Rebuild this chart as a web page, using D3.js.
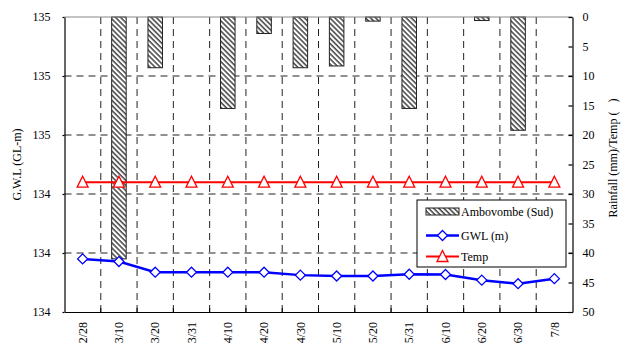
<!DOCTYPE html>
<html>
<head>
<meta charset="utf-8">
<script src="https://cdn.jsdelivr.net/npm/d3@7"></script>
<style>
  html, body { margin: 0; padding: 0; background: #fff; }
  svg { display: block; }
  svg text { font-family: "Liberation Serif", "Times New Roman", serif; font-size: 12px; fill: #000; }
</style>
</head>
<body>
<svg id="chart" width="627" height="350"></svg>
<script>
// Observation dates (10-day periods)
const dates = ["2/28", "3/10", "3/20", "3/31", "4/10", "4/20", "4/30", "5/10", "5/20", "5/31", "6/10", "6/20", "6/30", "7/8"];
// Rainfall at Ambovombe (Sud), mm
const rainfall = [0, 41, 8.6, 0, 15.5, 2.8, 8.6, 8.3, 0.7, 15.5, 0, 0.6, 19.2, 0];
// Groundwater level, GL-m
const gwl = [134.180, 134.171, 134.135, 134.135, 134.135, 134.135, 134.125, 134.122, 134.122, 134.128, 134.127, 134.108, 134.096, 134.113];
// Temperature
const temp = [28, 28, 28, 28, 28, 28, 28, 28, 28, 28, 28, 28, 28, 28];
const gwlTicks = [134.0, 134.2, 134.4, 134.6, 134.8, 135.0];
const rainTicks = [0, 5, 10, 15, 20, 25, 30, 35, 40, 45, 50];

const svg = d3.select("#chart");
const plotLeft = 64.5, plotRight = 572.5, plotTop = 17, plotBottom = 312;

const x = d3.scaleBand().domain(dates).range([plotLeft, plotRight]).padding(0);
const yL = d3.scaleLinear().domain([134.0, 135.0]).range([plotBottom, plotTop]);
const yR = d3.scaleLinear().domain([0, 50]).range([plotTop, plotBottom]);

// Hatch pattern for rainfall bars
const defs = svg.append("defs");
const pat = defs.append("pattern")
  .attr("id", "hatch")
  .attr("patternUnits", "userSpaceOnUse")
  .attr("width", 3.6).attr("height", 10)
  .attr("patternTransform", "rotate(-45)");
pat.append("rect").attr("width", 3.6).attr("height", 10).attr("fill", "#fff");
pat.append("line").attr("x1", 1).attr("y1", 0).attr("x2", 1).attr("y2", 10)
  .attr("stroke", "#333").attr("stroke-width", 1.4);

// Gridlines
const grid = svg.append("g").attr("stroke", "#222").attr("stroke-width", 1).attr("stroke-dasharray", "7,5");
gwlTicks.slice(1, -1).forEach(t => {
  grid.append("line").attr("x1", plotLeft).attr("x2", plotRight).attr("y1", yL(t)).attr("y2", yL(t));
});
dates.slice(1).forEach(d => {
  grid.append("line").attr("x1", x(d)).attr("x2", x(d)).attr("y1", plotTop).attr("y2", plotBottom);
});

// Rainfall bars hanging from the top
const barW = x.bandwidth() * 0.4;
svg.append("g").selectAll("rect")
  .data(dates.map((d, i) => ({ d, v: rainfall[i] })).filter(e => e.v > 0))
  .join("rect")
  .attr("x", e => x(e.d) + x.bandwidth() / 2 - barW / 2)
  .attr("y", yR(0))
  .attr("width", barW)
  .attr("height", e => yR(e.v) - yR(0))
  .attr("fill", "url(#hatch)")
  .attr("stroke", "#222")
  .attr("stroke-width", 1);

// Frame: top border
svg.append("line").attr("x1", plotLeft).attr("x2", plotRight).attr("y1", plotTop).attr("y2", plotTop)
  .attr("stroke", "#888").attr("stroke-width", 1);

// Temperature line
const cx = d => x(d) + x.bandwidth() / 2;
svg.append("path")
  .datum(temp)
  .attr("fill", "none").attr("stroke", "#ff0000").attr("stroke-width", 2)
  .attr("d", d3.line().x((v, i) => cx(dates[i])).y(v => yR(v)));

// Groundwater level line
svg.append("path")
  .datum(gwl)
  .attr("fill", "none").attr("stroke", "#0000ff").attr("stroke-width", 2.5)
  .attr("d", d3.line().x((v, i) => cx(dates[i])).y(v => yL(v)));

const triPath = (px, py) => `M${px},${py - 6}L${px + 5.5},${py + 5}L${px - 5.5},${py + 5}Z`;
const diaPath = (px, py) => `M${px},${py - 5}L${px + 5},${py}L${px},${py + 5}L${px - 5},${py}Z`;

svg.append("g").selectAll("path")
  .data(temp).join("path")
  .attr("d", (v, i) => triPath(cx(dates[i]), yR(v)))
  .attr("fill", "#fff").attr("stroke", "#ff0000").attr("stroke-width", 1.3);

svg.append("g").selectAll("path")
  .data(gwl).join("path")
  .attr("d", (v, i) => diaPath(cx(dates[i]), yL(v)))
  .attr("fill", "#fff").attr("stroke", "#0000ff").attr("stroke-width", 1.3);

// Axes
const axL = svg.append("g").attr("transform", `translate(${plotLeft},0)`)
  .call(d3.axisLeft(yL).tickValues(gwlTicks).tickFormat(d3.format(".0f")).tickSizeInner(2).tickSizeOuter(0).tickPadding(12));
const axR = svg.append("g").attr("transform", `translate(${plotRight},0)`)
  .call(d3.axisRight(yR).tickValues(rainTicks).tickSizeInner(-4).tickSizeOuter(0).tickPadding(10));
const axB = svg.append("g").attr("transform", `translate(0,${plotBottom})`)
  .call(d3.axisBottom(x).tickValues([]).tickSizeOuter(0));

[axL, axR, axB].forEach(a => {
  a.attr("font-family", null).attr("font-size", null);
  a.selectAll("path, line").attr("stroke", "#000").attr("stroke-width", 1.2);
  a.selectAll("text").attr("fill", null);
});

// Bottom ticks at band boundaries (pointing inward)
svg.append("g").selectAll("line")
  .data(dates.slice(1)).join("line")
  .attr("x1", d => x(d)).attr("x2", d => x(d))
  .attr("y1", plotBottom).attr("y2", plotBottom - 4)
  .attr("stroke", "#000").attr("stroke-width", 1);

// Rotated date labels
svg.append("g").selectAll("text")
  .data(dates).join("text")
  .attr("transform", d => `translate(${cx(d)},322) rotate(-90)`)
  .attr("dy", "0.35em")
  .attr("text-anchor", "end")
  .text(d => d);

// Axis titles
svg.append("text")
  .attr("transform", `translate(20.5,${(plotTop + plotBottom) / 2}) rotate(-90)`)
  .attr("text-anchor", "middle")
  .text("G.W.L (GL-m)");
svg.append("text")
  .attr("transform", `translate(617,158) rotate(-90)`)
  .attr("text-anchor", "middle")
  .text("Rainfall (mm)/Temp (\u00a0\u00a0\u00a0)");

// Legend
const lg = svg.append("g");
lg.append("rect").attr("x", 417).attr("y", 200).attr("width", 149).attr("height", 67)
  .attr("fill", "#fff").attr("stroke", "#000").attr("stroke-width", 1);
lg.append("rect").attr("x", 426).attr("y", 208).attr("width", 33).attr("height", 7)
  .attr("fill", "url(#hatch)").attr("stroke", "#222").attr("stroke-width", 1);
lg.append("line").attr("x1", 426).attr("x2", 459).attr("y1", 235.5).attr("y2", 235.5)
  .attr("stroke", "#0000ff").attr("stroke-width", 2.5);
lg.append("path").attr("d", diaPath(442.5, 235.5))
  .attr("fill", "#fff").attr("stroke", "#0000ff").attr("stroke-width", 1.3);
lg.append("line").attr("x1", 426).attr("x2", 459).attr("y1", 256.5).attr("y2", 256.5)
  .attr("stroke", "#ff0000").attr("stroke-width", 2);
lg.append("path").attr("d", triPath(442.5, 256.5))
  .attr("fill", "#fff").attr("stroke", "#ff0000").attr("stroke-width", 1.3);
const lgLabels = ["Ambovombe (Sud)", "GWL (m)", "Temp"];
const lgY = [211.5, 235.5, 256.5];
lg.selectAll("text.lbl").data(lgLabels).join("text")
  .attr("class", "lbl")
  .attr("x", 461).attr("y", (d, i) => lgY[i]).attr("dy", "0.35em")
  .text(d => d);
</script>
</body>
</html>
